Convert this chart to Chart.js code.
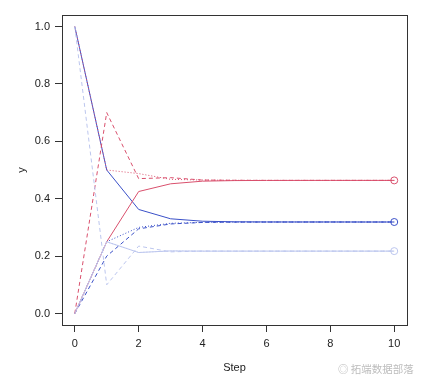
<!DOCTYPE html>
<html>
<head>
<meta charset="utf-8">
<script src="https://cdn.jsdelivr.net/npm/chart.js@4/dist/chart.umd.min.js"></script>
<style>
  html, body { margin: 0; padding: 0; background: #fff; }
  #wrap { position: relative; width: 432px; height: 386px; }
  #mark { position: absolute; left: 338px; top: 361px; font: 10.5px "Noto Sans CJK SC", sans-serif; color: #bdbdbd; }
</style>
</head>
<body>
<div id="wrap">
  <canvas id="chart" width="432" height="386"></canvas>
  <div id="mark">◎ 拓端数据部落</div>
</div>
<script>
// steps and the three runs (start in blue / red / light blue state)
const steps = [0, 1, 2, 3, 4, 5, 6, 7, 8, 9, 10];
const xTicks = [0, 2, 4, 6, 8, 10];
const yTicks = [0, 0.2, 0.4, 0.6, 0.8, 1.0];

// solid: start in blue
const blueSolid  = [1, 0.5, 0.3625, 0.33, 0.3216, 0.3195, 0.3190, 0.3189, 0.3189, 0.3188, 0.3188];
const redSolid   = [0, 0.25, 0.425, 0.4519, 0.4611, 0.4631, 0.4636, 0.4637, 0.4638, 0.4638, 0.4638];
const lightSolid = [0, 0.25, 0.2125, 0.2181, 0.2173, 0.2174, 0.2174, 0.2174, 0.2174, 0.2174, 0.2174];

// dotted: start in red
const blueDotted  = [0, 0.25, 0.30, 0.3144, 0.3177, 0.3186, 0.3188, 0.3188, 0.3188, 0.3188, 0.3188];
const redDotted   = [1, 0.5, 0.4875, 0.4675, 0.4650, 0.4640, 0.4638, 0.4638, 0.4638, 0.4638, 0.4638];
const lightDotted = [0, 0.25, 0.2125, 0.2181, 0.2173, 0.2174, 0.2174, 0.2174, 0.2174, 0.2174, 0.2174];

// dashed: start in light blue
const blueDashed  = [0, 0.2, 0.295, 0.312, 0.3173, 0.3184, 0.3187, 0.3188, 0.3188, 0.3188, 0.3188];
const redDashed   = [0, 0.7, 0.47, 0.4733, 0.4650, 0.4642, 0.4638, 0.4638, 0.4638, 0.4638, 0.4638];
const lightDashed = [1, 0.1, 0.235, 0.2148, 0.2178, 0.2173, 0.2174, 0.2174, 0.2174, 0.2174, 0.2174];

const RED = "#d9506d";
const BLUE = "#3a50c8";
const LIGHT = "#bcc6ee";

function pts(vals) {
    return vals.map((v, i) => ({ x: steps[i], y: v }));
}

function series(vals, color, dash, endPoint) {
    return {
        data: pts(vals),
        borderColor: color,
        borderWidth: 1,
        borderDash: dash,
        pointRadius: steps.map((s, i) => (endPoint && i === steps.length - 1) ? 3.5 : 0),
        pointBorderColor: color,
        pointBorderWidth: 1,
        pointBackgroundColor: "rgba(0,0,0,0)",
        tension: 0,
        fill: false
    };
}

// box and axis titles, R style
const frame = {
    id: "frame",
    afterDraw(chart) {
        const { ctx, chartArea: a } = chart;
        ctx.save();
        ctx.strokeStyle = "#333";
        ctx.lineWidth = 1;
        ctx.strokeRect(Math.round(a.left) + 0.5, Math.round(a.top) + 0.5,
            Math.round(a.right - a.left), Math.round(a.bottom - a.top));
        ctx.fillStyle = "#222";
        ctx.font = "11px 'Liberation Sans', Arial, sans-serif";
        ctx.textAlign = "center";
        ctx.textBaseline = "middle";
        ctx.fillText("Step", (a.left + a.right) / 2, 368);
        ctx.translate(22, (a.top + a.bottom) / 2);
        ctx.rotate(-Math.PI / 2);
        ctx.fillText("y", 0, 0);
        ctx.restore();
    }
};

new Chart(document.getElementById("chart"), {
    type: "line",
    data: {
        datasets: [
            series(lightDashed, LIGHT, [4, 3], false),
            series(lightDotted, LIGHT, [1, 2], false),
            series(lightSolid, LIGHT, [], true),
            series(redDashed, RED, [4, 3], false),
            series(redDotted, RED, [1, 2], false),
            series(redSolid, RED, [], true),
            series(blueDashed, BLUE, [4, 3], false),
            series(blueDotted, BLUE, [1, 2], false),
            series(blueSolid, BLUE, [], true)
        ]
    },
    options: {
        responsive: false,
        animation: false,
        layout: { padding: { top: 15, right: 25, left: 0, bottom: 0 } },
        plugins: { legend: { display: false }, tooltip: { enabled: false } },
        scales: {
            x: {
                type: "linear",
                min: -0.4,
                max: 10.4,
                afterBuildTicks: s => { s.ticks = xTicks.map(v => ({ value: v })); },
                afterFit: s => { s.height = 61; },
                grid: { drawOnChartArea: false, tickLength: 7, color: "#333" },
                border: { display: false },
                ticks: { color: "#222", padding: 5, maxRotation: 0,
                    font: { family: "'Liberation Sans', Arial, sans-serif", size: 11 } }
            },
            y: {
                min: -0.04,
                max: 1.04,
                afterBuildTicks: s => { s.ticks = yTicks.map(v => ({ value: v })); },
                afterFit: s => { s.width = 62; },
                grid: { drawOnChartArea: false, tickLength: 7, color: "#333" },
                border: { display: false },
                ticks: { color: "#222", padding: 5,
                    callback: v => v.toFixed(1),
                    font: { family: "'Liberation Sans', Arial, sans-serif", size: 11 } }
            }
        }
    },
    plugins: [frame]
});
</script>
</body>
</html>
